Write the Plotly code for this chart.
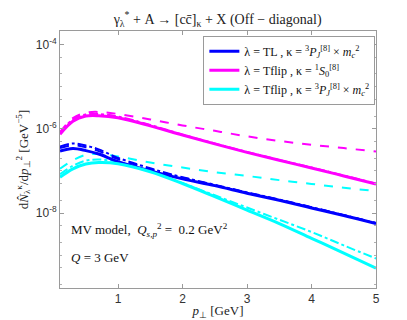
import plotly.graph_objects as go

# ---- data ----
pt = [0.1, 0.3, 0.5, 0.7, 1.0, 1.5, 2.0, 2.5, 3.0, 3.5, 4.0, 4.5, 5.0]

mag_solid = [7.41e-7, 1.51e-6, 2.00e-6, 2.04e-6, 1.82e-6, 1.17e-6, 7.08e-7, 4.37e-7, 2.75e-7, 1.78e-7, 1.17e-7, 7.59e-8, 4.90e-8]
mag_dash = [8.32e-7, 1.78e-6, 2.40e-6, 2.51e-6, 2.24e-6, 1.66e-6, 1.20e-6, 8.91e-7, 6.61e-7, 5.13e-7, 4.17e-7, 3.47e-7, 2.88e-7]
mag_dashdot = [7.94e-7, 1.66e-6, 2.19e-6, 2.24e-6, 1.95e-6, 1.23e-6, 7.24e-7, 4.47e-7, 2.82e-7, 1.82e-7, 1.20e-7, 7.76e-8, 5.01e-8]

blue_solid = [2.95e-7, 3.39e-7, 3.02e-7, 2.51e-7, 1.66e-7, 1.00e-7, 6.46e-8, 4.47e-8, 2.95e-8, 2.00e-8, 1.32e-8, 8.71e-9, 5.62e-9]
blue_dashdot = [3.80e-7, 4.47e-7, 3.98e-7, 3.24e-7, 2.04e-7, 1.15e-7, 7.08e-8, 4.68e-8, 3.09e-8, 2.09e-8, 1.38e-8, 8.91e-9, 5.75e-9]
blue_dash = [3.47e-7, 4.07e-7, 3.63e-7, 2.95e-7, 1.91e-7, 1.10e-7, 6.92e-8, 4.57e-8, 3.02e-8, 2.04e-8, 1.35e-8, 8.91e-9, 5.75e-9]

cyan_solid = [7.08e-8, 1.12e-7, 1.45e-7, 1.58e-7, 1.48e-7, 9.55e-8, 5.01e-8, 2.45e-8, 1.17e-8, 5.62e-9, 2.51e-9, 1.12e-9, 4.90e-10]
cyan_dash = [1.12e-7, 1.78e-7, 2.40e-7, 2.51e-7, 2.19e-7, 1.58e-7, 1.20e-7, 9.33e-8, 7.59e-8, 6.03e-8, 4.90e-8, 3.98e-8, 3.31e-8]
cyan_dashdot = [8.32e-8, 1.32e-7, 1.74e-7, 1.86e-7, 1.62e-7, 1.00e-7, 5.13e-8, 2.63e-8, 1.35e-8, 6.92e-9, 3.55e-9, 1.70e-9, 8.32e-10]

legend_labels = [
    "λ = TL , κ = <sup>3</sup><i>P</i><sub><i>J</i></sub><sup>[8]</sup> × <i>m</i><sub><i>c</i></sub><sup>2</sup>",
    "λ = Tflip , κ = <sup>1</sup><i>S</i><sub>0</sub><sup>[8]</sup>",
    "λ = Tflip , κ = <sup>3</sup><i>P</i><sub><i>J</i></sub><sup>[8]</sup> × <i>m</i><sub><i>c</i></sub><sup>2</sup>",
]

BLUE = "#0000ff"
MAG = "#ff00ff"
CYAN = "#00ffff"
SERIF = "Liberation Serif"

fig = go.Figure()

def add(y, color, dash, width, name=None, show=False):
    fig.add_trace(go.Scatter(
        x=pt, y=y, mode="lines", line=dict(color=color, dash=dash, width=width, shape="spline"),
        name=name, showlegend=show, hoverinfo="skip"))

# secondary curves
add(mag_dash, MAG, "dash", 2)
add(mag_dashdot, MAG, "dashdot", 2)
add(cyan_dash, CYAN, "dash", 2)
add(cyan_dashdot, CYAN, "dashdot", 2)
add(blue_dash, BLUE, "dash", 2)
add(blue_dashdot, BLUE, "dashdot", 2)
# main curves
add(blue_solid, BLUE, "solid", 3, legend_labels[0], True)
add(mag_solid, MAG, "solid", 3, legend_labels[1], True)
add(cyan_solid, CYAN, "solid", 3, legend_labels[2], True)

axis_common = dict(
    showline=True, linecolor="#9a9a9a", linewidth=1, mirror="ticks",
    ticks="inside", ticklen=4, tickcolor="#9a9a9a",
    showgrid=False, zeroline=False,
    tickfont=dict(family="Liberation Sans", size=12, color="#333333"),
)

fig.update_layout(
    width=407, height=320,
    margin=dict(l=52, r=39, t=23, b=37),
    plot_bgcolor="white", paper_bgcolor="white",
    title=dict(
        text="γ<sub>λ</sub><sup>*</sup> + A → [cc̄]<sub>κ</sub> + X (Off − diagonal)",
        x=0.515, xanchor="center", y=0.98, yanchor="top",
        font=dict(family=SERIF, size=14, color="#222222")),
    xaxis=dict(range=[0.1, 5], tickvals=[1, 2, 3, 4, 5],
               title=dict(text="<i>p</i><sub>⊥</sub> [GeV]", standoff=0,
                          font=dict(family=SERIF, size=13, color="#222222")),
               **axis_common),
    yaxis=dict(type="log", range=[-9.78, -3.68], tickvals=[1e-8, 1e-6, 1e-4],
               ticktext=["10<sup>-8</sup>", "10<sup>-6</sup>", "10<sup>-4</sup>"],
               minor=dict(ticks="inside", ticklen=2, tickcolor="#b0b0b0", showgrid=False),
               title=dict(text="d<i>N̂</i><sub>λ</sub><sup>κ</sup>/d<i>p</i><sub>⊥</sub><sup>2</sup> [GeV<sup>−5</sup>]",
                          standoff=4, font=dict(family=SERIF, size=13, color="#222222")),
               **axis_common),
    legend=dict(x=0.998, xanchor="right", y=0.982, yanchor="top",
                bgcolor="white", bordercolor="#9a9a9a", borderwidth=1,
                font=dict(family=SERIF, size=12, color="#111111"),
                itemwidth=30, tracegroupgap=0),
    annotations=[
        dict(text="MV model,  <i>Q</i><sub><i>s,p</i></sub><sup>2</sup> =  0.2 GeV<sup>2</sup>",
             xref="paper", yref="paper", x=0.03, y=0.225, xanchor="left", yanchor="middle",
             showarrow=False, font=dict(family=SERIF, size=13, color="#111111")),
        dict(text="<i>Q</i> = 3 GeV",
             xref="paper", yref="paper", x=0.03, y=0.12, xanchor="left", yanchor="middle",
             showarrow=False, font=dict(family=SERIF, size=13, color="#111111")),
    ],
)

fig.write_html("out.html")
